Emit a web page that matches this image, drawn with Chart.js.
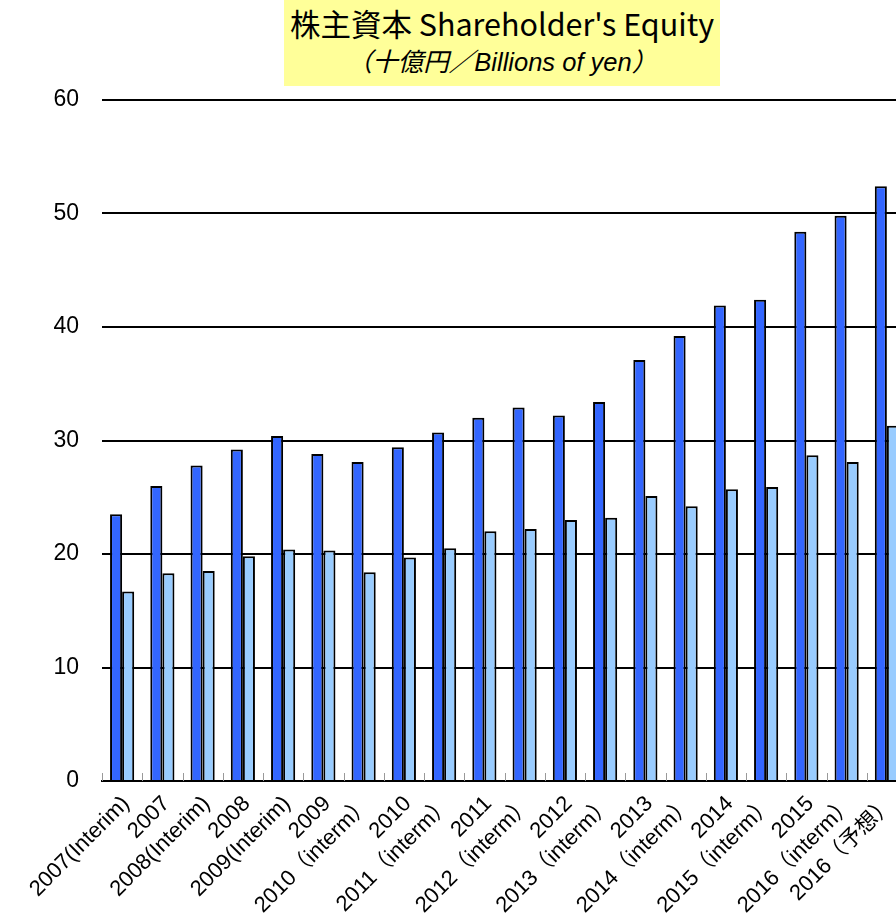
<!DOCTYPE html>
<html>
<head>
<meta charset="utf-8">
<script src="https://cdn.jsdelivr.net/npm/chart.js@4"></script>
<style>
  html, body { margin: 0; padding: 0; background: #fff; overflow: hidden; }
  #wrap { position: relative; width: 910px; height: 917px; }
  #title-box {
    position: absolute; left: 284px; top: 0; width: 436px; height: 86px;
    background: #ffff99; text-align: center;
  }
  #title-main {
    font-family: 'Noto Sans CJK JP', 'Open Sans', sans-serif;
    font-size: 30.5px; line-height: 30px; padding-top: 8px; color: #000;
  }
  #title-sub {
    font-family: 'Liberation Sans', 'Noto Sans CJK JP', sans-serif;
    font-style: italic; font-size: 25.5px; line-height: 25px; margin-top: 12px; color: #000;
  }
  canvas { position: absolute; left: 0; top: 0; }
</style>
</head>
<body>
<div id="wrap">
  <canvas id="equityChart" width="910" height="917"></canvas>
  <div id="title-box">
    <div id="title-main">株主資本 Shareholder's Equity</div>
    <div id="title-sub">（十億円／Billions of yen）</div>
  </div>
</div>
<script>
const categories = [
  '2007(Interim)', '2007', '2008(Interim)', '2008', '2009(Interim)', '2009',
  '2010（interm）', '2010', '2011（interm）', '2011', '2012（interm）', '2012',
  '2013（interm）', '2013', '2014（interm）', '2014', '2015（interm）', '2015',
  '2016（interm）', '2016（予想）'
];
const seriesDark = [23.5, 26.0, 27.8, 29.2, 30.4, 28.8, 28.1, 29.4, 30.7, 32.0,
                    32.9, 32.2, 33.4, 37.1, 39.2, 41.9, 42.4, 48.4, 49.8, 52.4];
const seriesLight = [16.7, 18.3, 18.5, 19.8, 20.4, 20.3, 18.4, 19.7, 20.5, 22.0,
                     22.2, 23.0, 23.2, 25.1, 24.2, 25.7, 25.9, 28.7, 28.1, 31.3];
const yTicks = [0, 10, 20, 30, 40, 50, 60];

// small grey tick marks sitting inside the plot on the x axis
const innerTicks = {
  id: 'innerTicks',
  afterDatasetsDraw(chart) {
    const x = chart.scales.x
    const area = chart.chartArea
    const ctx = chart.ctx
    const half = (x.getPixelForValue(1) - x.getPixelForValue(0)) / 2
    ctx.save()
    ctx.strokeStyle = '#999'
    ctx.lineWidth = 1
    for (let i = 0; i <= categories.length; i++) {
      const px = Math.round(x.getPixelForValue(i) - half) + 0.5
      ctx.beginPath()
      ctx.moveTo(px, area.bottom - 8)
      ctx.lineTo(px, area.bottom)
      ctx.stroke()
    }
    ctx.restore()
  }
}

const ctx = document.getElementById('equityChart').getContext('2d')
const equityChart = new Chart(ctx, {
  type: 'bar',
  data: {
    labels: categories,
    datasets: [{
      data: seriesDark,
      backgroundColor: '#3366ff',
      borderColor: '#000',
      borderWidth: 2
    }, {
      data: seriesLight,
      backgroundColor: '#99ccff',
      borderColor: '#000',
      borderWidth: 2
    }]
  },
  options: {
    responsive: false,
    animation: false,
    layout: { padding: { top: 100, right: 3, left: 0, bottom: 0 } },
    plugins: { legend: { display: false }, tooltip: { enabled: false } },
    datasets: { bar: { categoryPercentage: 0.6, barPercentage: 1.0 } },
    scales: {
      x: {
        grid: { display: false },
        border: { display: true, color: '#000', width: 2 },
        ticks: {
          autoSkip: false,
          minRotation: 45,
          maxRotation: 45,
          padding: 2,
          labelOffset: 4,
          color: '#000',
          font: { family: "'Liberation Sans', 'Noto Sans CJK JP', sans-serif", size: 22 }
        },
        afterFit: function(scale) { scale.height = 136 }
      },
      y: {
        min: 0,
        max: 60,
        afterBuildTicks: function(scale) { scale.ticks = yTicks.map(v => ({ value: v })) },
        grid: { color: '#000', lineWidth: 2, drawTicks: false },
        border: { display: false },
        ticks: {
          padding: 23,
          color: '#000',
          font: { family: "'Liberation Sans', sans-serif", size: 23 }
        },
        afterFit: function(scale) { scale.width = 102 }
      }
    }
  },
  plugins: [innerTicks]
})
</script>
</body>
</html>
